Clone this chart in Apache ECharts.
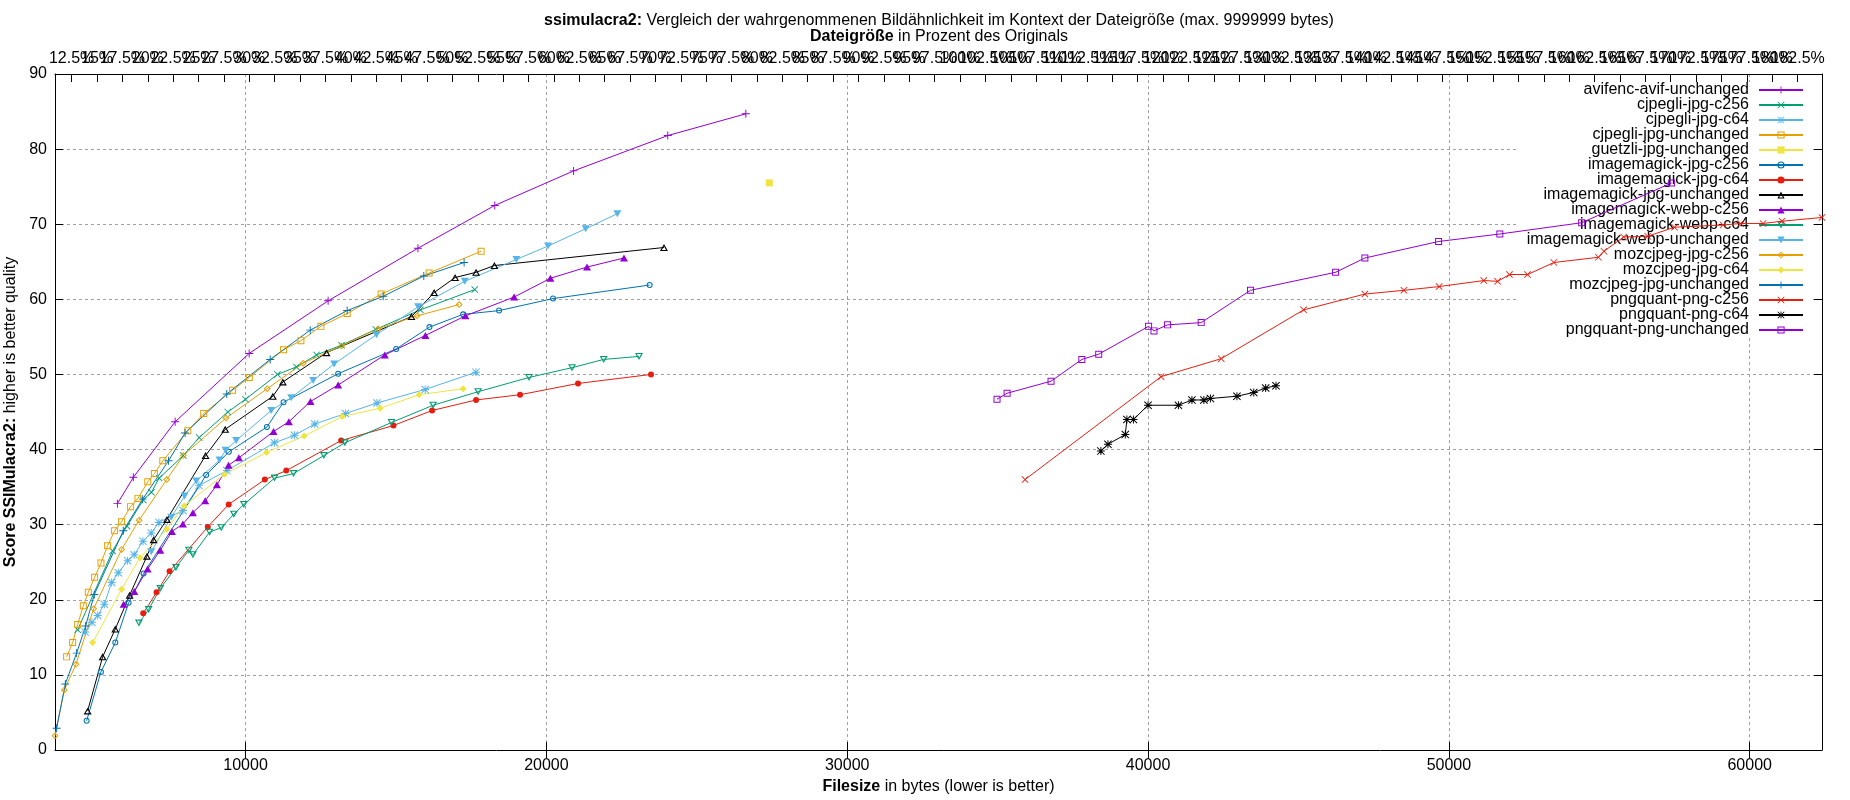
<!DOCTYPE html>
<html>
<head>
<meta charset="utf-8">
<script src="https://cdn.jsdelivr.net/npm/echarts/dist/echarts.min.js"></script>
<style>
html, body { margin: 0; padding: 0; background: #fff; }
#chart { width: 1850px; height: 800px; }
</style>
</head>
<body>
<div id="chart"></div>
<script>
const FONT = 'Liberation Sans';
// size of the original image in bytes (top axis shows percent of it)
const originalSize = 33750;

const seriesNames = [
    'avifenc-avif-unchanged', 'cjpegli-jpg-c256', 'cjpegli-jpg-c64', 'cjpegli-jpg-unchanged',
    'guetzli-jpg-unchanged', 'imagemagick-jpg-c256', 'imagemagick-jpg-c64', 'imagemagick-jpg-unchanged',
    'imagemagick-webp-c256', 'imagemagick-webp-c64', 'imagemagick-webp-unchanged', 'mozcjpeg-jpg-c256',
    'mozcjpeg-jpg-c64', 'mozcjpeg-jpg-unchanged', 'pngquant-png-c256', 'pngquant-png-c64', 'pngquant-png-unchanged'
];

// [filesize bytes, score]
const avifencAvifUnchanged = [[5740,32.8],[6270,36.3],[7660,43.7],[10120,52.8],[12745,59.8],[15730,66.8],[18285,72.5],[20905,77.1],[24035,81.8],[26630,84.7]];
const cjpegliJpgC256 = [[4420,16.0],[5580,26.5],[6060,29.8],[6600,33.3],[6870,34.3],[7130,36.2],[7930,39.2],[8460,41.6],[9410,45.0],[10000,46.7],[11060,50.0],[11690,51.0],[12360,52.6],[13190,53.9],[14330,56.0],[15810,58.6],[17620,61.3]];
const cjpegliJpgC64 = [[4670,15.7],[4895,17.0],[5085,17.9],[5305,19.4],[5550,22.3],[5770,23.6],[6080,25.2],[6300,26.0],[6590,27.8],[6865,28.9],[7120,30.3],[7920,31.9],[8450,35.2],[9380,37.2],[10960,40.9],[11625,41.9],[12300,43.4],[13320,44.8],[14370,46.2],[15970,48.0],[17660,50.3]];
const cjpegliJpgUnchanged = [[4053,12.4],[4253,14.3],[4420,16.7],[4607,19.2],[4773,21.0],[4983,23.0],[5194,24.9],[5415,27.2],[5648,29.2],[5880,30.4],[6179,32.4],[6423,33.5],[6750,35.7],[6970,36.8],[7250,38.5],[8080,42.5],[8610,44.8],[9570,47.9],[10125,49.6],[11262,53.3],[11840,54.5],[12503,56.4],[13378,58.1],[14507,60.7],[16102,63.5],[17830,66.4]];
const guetzliJpgUnchanged = [[27410,75.5]];
const imagemagickJpgC256 = [[4718,3.9],[5194,10.4],[5670,14.3],[6113,19.6],[6611,23.5],[8690,36.6],[9446,39.7],[10709,43.0],[11262,46.3],[13079,50.1],[15006,53.4],[16113,56.3],[17232,58.0],[18427,58.5],[20221,60.1],[23433,61.9]];
const imagemagickJpgC64 = [[6600,18.2],[7043,21.0],[7475,23.8],[8745,29.7],[9440,32.7],[10640,36.0],[11355,37.2],[13179,41.2],[14917,43.2],[16202,45.2],[17663,46.6],[19125,47.3],[21052,48.8],[23477,50.0]];
const imagemagickJpgUnchanged = [[4751,5.2],[5249,12.4],[5670,16.1],[6146,20.6],[6722,25.8],[6944,28.0],[7387,30.7],[8671,39.2],[9325,42.7],[10908,47.1],[11240,49.0],[12691,52.9],[15515,57.7],[16268,60.9],[16966,62.9],[17663,63.6],[18272,64.5],[23909,66.9]];
const imagemagickWebpC256 = [[5947,19.4],[6301,21.1],[6744,24.1],[7165,26.6],[7553,29.1],[7918,30.1],[8250,31.6],[8660,33.2],[9048,35.3],[9435,37.9],[9779,38.9],[10930,42.4],[11440,43.7],[12159,46.4],[13079,48.6],[14629,52.6],[15980,55.2],[17309,57.8],[18926,60.3],[20133,62.8],[21351,64.3],[22580,65.5]];
const imagemagickWebpC64 = [[6456,16.9],[6777,18.7],[7165,21.5],[7686,24.3],[8117,26.6],[8250,26.0],[8804,29.0],[9192,29.6],[9612,31.4],[9945,32.7],[10963,36.2],[11595,36.8],[12603,39.2],[13301,40.9],[14851,43.6],[16235,45.9],[17730,47.7],[19424,49.6],[20853,50.9],[21905,52.0],[23079,52.4]];
const imagemagickWebpUnchanged = [[6866,26.4],[7530,31.0],[7973,33.8],[8361,35.8],[9136,38.6],[9336,39.9],[9690,41.2],[10853,45.2],[11517,46.9],[12248,49.2],[12946,51.4],[14352,55.3],[15737,59.0],[17287,62.4],[19003,65.3],[20055,67.1],[21307,69.4],[22359,71.4]];
const mozcjpegJpgC256 = [[3666,1.9],[3976,8.0],[4363,11.4],[4950,18.8],[5880,26.7],[6460,30.6],[7380,36.0],[7930,39.2],[9350,44.2],[10720,48.1],[11916,51.5],[13190,53.8],[14408,56.1],[15703,57.8],[17099,59.3]];
const mozcjpegJpgC64 = [[4917,14.3],[5880,21.4],[6489,25.6],[7386,29.4],[7960,32.5],[9303,36.7],[10690,39.6],[11950,41.8],[13212,44.4],[14474,45.5],[15770,47.3],[17232,48.1]];
const mozcjpegJpgUnchanged = [[3720,2.9],[4009,8.8],[4385,12.9],[4684,16.5],[4972,20.7],[5936,29.2],[6580,33.4],[7440,38.5],[7990,42.2],[9375,47.4],[10819,52.0],[12150,55.9],[13378,58.5],[14574,60.4],[15925,63.1],[17265,64.9]];
const pngquantPngC256 = [[35910,36.0],[40432,49.7],[42432,52.1],[45171,58.6],[47207,60.7],[48505,61.2],[49676,61.7],[51160,62.5],[51620,62.4],[52015,63.3],[52615,63.3],[53490,64.9],[54970,65.6],[55155,66.4],[55810,68.3],[56610,68.4],[57500,69.6],[59114,69.9],[59701,70.1],[60443,70.1],[61074,70.4],[62403,70.9]];
const pngquantPngC64 = [[38432,39.8],[38667,40.7],[39243,42.0],[39297,44.0],[39514,44.0],[40000,45.9],[41009,45.9],[41459,46.6],[41856,46.6],[42072,46.8],[42955,47.1],[43514,47.6],[43910,48.2],[44252,48.5]];
const pngquantPngUnchanged = [[34980,46.7],[35315,47.5],[36775,49.1],[37800,52.0],[38360,52.7],[40018,56.4],[40198,55.8],[40649,56.6],[41766,56.9],[43405,61.2],[46234,63.6],[47207,65.5],[49658,67.7],[51694,68.7],[54414,70.2],[57405,75.5]];

const xTicks = [10000, 20000, 30000, 40000, 50000, 60000];
const pctTicks = [12.5,15,17.5,20,22.5,25,27.5,30,32.5,35,37.5,40,42.5,45,47.5,50,52.5,55,57.5,60,62.5,65,67.5,70,72.5,75,77.5,80,82.5,85,87.5,90,92.5,95,97.5,100,102.5,105,107.5,110,112.5,115,117.5,120,122.5,125,127.5,130,132.5,135,137.5,140,142.5,145,147.5,150,152.5,155,157.5,160,162.5,165,167.5,170,172.5,175,177.5,180,182.5];

const seriesData = [
    avifencAvifUnchanged, cjpegliJpgC256, cjpegliJpgC64, cjpegliJpgUnchanged,
    guetzliJpgUnchanged, imagemagickJpgC256, imagemagickJpgC64, imagemagickJpgUnchanged,
    imagemagickWebpC256, imagemagickWebpC64, imagemagickWebpUnchanged, mozcjpegJpgC256,
    mozcjpegJpgC64, mozcjpegJpgUnchanged, pngquantPngC256, pngquantPngC64, pngquantPngUnchanged
];

// gnuplot-like point types
const PT = {
    plus: 'path://M0,4.4H10V5.6H0Z M4.4,0H5.6V10H4.4Z',
    cross: 'path://M0.85,0L5,4.15L9.15,0L10,0.85L5.85,5L10,9.15L9.15,10L5,5.85L0.85,10L0,9.15L4.15,5L0,0.85Z',
    star: 'path://M0,4.4H10V5.6H0Z M4.4,0H5.6V10H4.4Z M0.85,0L5,4.15L9.15,0L10,0.85L5.85,5L10,9.15L9.15,10L5,5.85L0.85,10L0,9.15L4.15,5L0,0.85Z',
    box: 'path://M0,0H10V10H0Z M1.4,1.4V8.6H8.6V1.4Z',
    boxF: 'path://M0,0H10V10H0Z',
    circ: 'path://M5,0A5,5,0,1,1,5,10A5,5,0,1,1,5,0Z M5,1.7A3.3,3.3,0,1,0,5,8.3A3.3,3.3,0,1,0,5,1.7Z',
    circF: 'circle',
    tri: 'path://M5,0L10,9H0Z M5,2.9L2.4,7.6H7.6Z',
    triF: 'path://M5,0L10,9H0Z',
    triD: 'path://M0,0H10L5,9Z M2.4,1.4L5,6.1L7.6,1.4Z',
    triDF: 'path://M0,0H10L5,9Z',
    dia: 'path://M5,0L10,5L5,10L0,5Z M5,2L2,5L5,8L8,5Z',
    diaF: 'path://M5,0L10,5L5,10L0,5Z'
};
const looks = [
    ['#9400d3', PT.plus, 8], ['#009e73', PT.cross, 7], ['#56b4e9', PT.star, 8], ['#e69f00', PT.box, 7],
    ['#f0e442', PT.boxF, 7], ['#0072b2', PT.circ, 6], ['#e51e10', PT.circF, 6], ['#000000', PT.tri, [8, 7]],
    ['#9400d3', PT.triF, [8, 7]], ['#009e73', PT.triD, [8, 7]], ['#56b4e9', PT.triDF, [8, 7]], ['#e69f00', PT.dia, 7],
    ['#f0e442', PT.diaF, 7], ['#0072b2', PT.plus, 8], ['#e51e10', PT.cross, 7], ['#000000', PT.star, 8],
    ['#9400d3', PT.box, 7]
];

let xMin = Infinity, xMax = -Infinity;
seriesData.forEach(function (s) {
    s.forEach(function (p) {
        xMin = Math.min(xMin, p[0]);
        xMax = Math.max(xMax, p[0]);
    });
});

const txt = { fontFamily: FONT, fontSize: 16, color: '#000' };
const bold = { fontFamily: FONT, fontSize: 16, color: '#000', fontWeight: 'bold' };
const frame = { show: true, onZero: false, lineStyle: { color: '#000', width: 1 } };
const inTick = { show: true, inside: true, length: 8, lineStyle: { color: '#000', width: 1 } };
const grid = { show: true, lineStyle: { color: '#a0a0a0', width: 1, type: [3, 3] } };
const pctMin = xMin / originalSize * 100;
const pctMax = xMax / originalSize * 100;

// top labels overlap each other like in gnuplot; spread them over three
// label-only axes so echarts does not drop neighbours of first/last label
function pctLabelAxis(k) {
    return {
        type: 'value', position: 'top', min: pctMin, max: pctMax,
        axisLine: { show: false }, axisTick: { show: false }, splitLine: { show: false },
        axisLabel: Object.assign({
            customValues: pctTicks.filter(function (v, i) { return i % 3 === k; }),
            margin: 7, hideOverlap: false, showMinLabel: true, showMaxLabel: true,
            formatter: function (v) { return v + '%'; }
        }, txt)
    };
}

var myChart = echarts.init(document.getElementById('chart'));
var option = {
    animation: false,
    backgroundColor: '#fff',
    title: [{
        text: '{b|ssimulacra2:} Vergleich der wahrgenommenen Bildähnlichkeit im Kontext der Dateigröße (max. 9999999 bytes)',
        left: 939, top: 13, padding: 0, textAlign: 'center',
        textStyle: Object.assign({ fontWeight: 'normal', rich: { b: bold } }, txt)
    }, {
        text: '{b|Dateigröße} in Prozent des Originals',
        left: 939, top: 29, padding: 0, textAlign: 'center',
        textStyle: Object.assign({ fontWeight: 'normal', rich: { b: bold } }, txt)
    }],
    grid: { left: 55, right: 28, top: 74, bottom: 50, containLabel: false, outerBoundsMode: 'none' },
    legend: {
        orient: 'vertical', align: 'right', right: 38, top: 82,
        padding: [0, 8, 0, 10], itemWidth: 44, itemHeight: 9, itemGap: -1,
        backgroundColor: '#fff', z: 1, selectedMode: false,
        textStyle: Object.assign({ lineHeight: 16, padding: [0, 5, 0, 0] }, txt),
        data: seriesNames
    },
    xAxis: [{
        type: 'value', position: 'bottom', min: xMin, max: xMax,
        name: '{b|Filesize} in bytes (lower is better)', nameLocation: 'middle', nameGap: 28,
        nameTextStyle: Object.assign({ rich: { b: bold } }, txt),
        axisLine: frame, axisTick: Object.assign({ customValues: xTicks }, inTick),
        axisLabel: Object.assign({ customValues: xTicks, margin: 8, formatter: function (v) { return String(v); } }, txt),
        splitLine: grid
    }, {
        // top frame with percent ticks
        type: 'value', position: 'top', min: pctMin, max: pctMax,
        axisLine: frame, axisTick: Object.assign({ customValues: pctTicks }, inTick),
        axisLabel: { show: false }, splitLine: { show: false }
    }, {
        // mirrored byte ticks on top
        type: 'value', position: 'top', min: xMin, max: xMax,
        axisLine: { show: false }, axisTick: Object.assign({ customValues: xTicks }, inTick),
        axisLabel: { show: false }, splitLine: { show: false }
    }, pctLabelAxis(0), pctLabelAxis(1), pctLabelAxis(2)],
    yAxis: [{
        type: 'value', position: 'left', min: 0, max: 90, interval: 10,
        name: '{b|Score SSIMulacra2:} higher is better quality', nameLocation: 'middle', nameGap: 35,
        nameTextStyle: Object.assign({ rich: { b: bold } }, txt),
        axisLine: frame, axisTick: inTick,
        axisLabel: Object.assign({ margin: 8 }, txt),
        splitLine: grid
    }, {
        type: 'value', position: 'right', min: 0, max: 90, interval: 10,
        axisLine: frame, axisTick: inTick, axisLabel: { show: false }, splitLine: { show: false }
    }],
    series: seriesNames.map(function (name, i) {
        return {
            type: 'line', name: name, data: seriesData[i],
            xAxisIndex: 0, yAxisIndex: 0,
            symbol: looks[i][1], symbolSize: looks[i][2],
            lineStyle: { color: looks[i][0], width: 1 },
            itemStyle: { color: looks[i][0] },
            emphasis: { disabled: true },
            clip: false
        };
    })
};
myChart.setOption(option);
</script>
</body>
</html>
